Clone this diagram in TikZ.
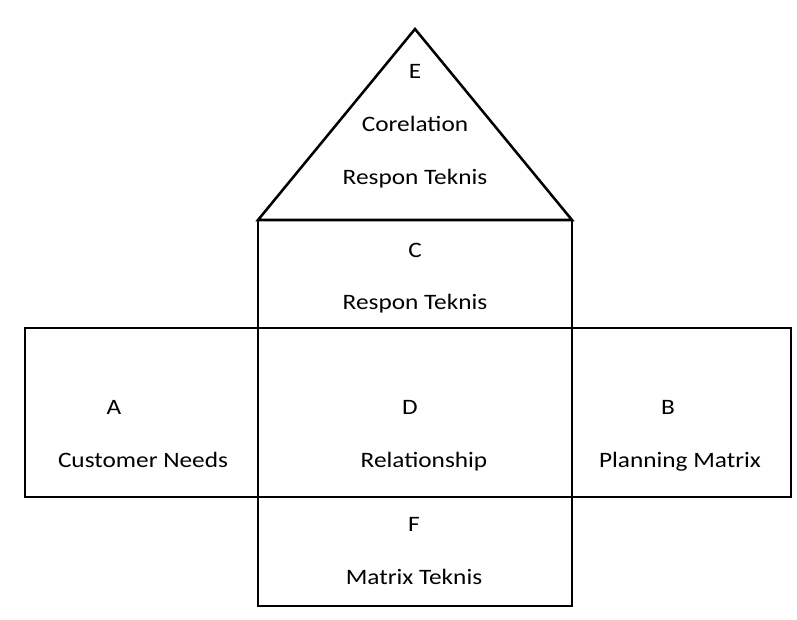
\documentclass[tikz,border=0pt]{standalone}
\usepackage{fontspec}
\setmainfont{Carlito}[FakeStretch=1.15]
\begin{document}
\begin{tikzpicture}[x=0.75pt,y=-0.75pt,
  frame/.style={line width=1.9pt,line join=miter},
  lbl/.style={anchor=base,inner sep=0pt,font=\fontsize{16.5pt}{18pt}\selectfont,text=black}]
\useasboundingbox (0,0) rectangle (797,619);
% key points
\coordinate (apex) at (415,29);
\coordinate (tl) at (258,220);
\coordinate (tr) at (572,220);
\coordinate (ml) at (258,328);
\coordinate (mr) at (572,328);
\coordinate (bl) at (258,497);
\coordinate (br) at (572,497);
\coordinate (fl) at (258,606);
\coordinate (fr) at (572,606);
\coordinate (wl1) at (25,328);
\coordinate (wr2) at (791,497);
% roof
\draw[frame] (tl) -- (apex) -- (tr) -- cycle;
% C room
\draw[frame] (tl) rectangle (mr);
% wide band A / D / B
\draw[frame] (wl1) rectangle (wr2);
\draw[frame] (ml) -- (bl);
\draw[frame] (mr) -- (br);
% F basement
\draw[frame] (bl) rectangle (fr);
% labels
\node[lbl] (e1) at (415,78) {E};
\node[lbl] (e2) at (415,131) {Corelation};
\node[lbl] (e3) at (415,184) {Respon Teknis};
\node[lbl] (c1) at (415,257) {C};
\node[lbl] (c2) at (415,309) {Respon Teknis};
\node[lbl] (a1) at (114,414) {A};
\node[lbl] (a2) at (143,467) {Customer Needs};
\node[lbl] (d1) at (410,414) {D};
\node[lbl] (d2) at (424,467) {Relationship};
\node[lbl] (b1) at (668,414) {B};
\node[lbl] (b2) at (680,467) {Planning Matrix};
\node[lbl] (f1) at (414,531) {F};
\node[lbl] (f2) at (414,584) {Matrix Teknis};
\end{tikzpicture}
\end{document}
